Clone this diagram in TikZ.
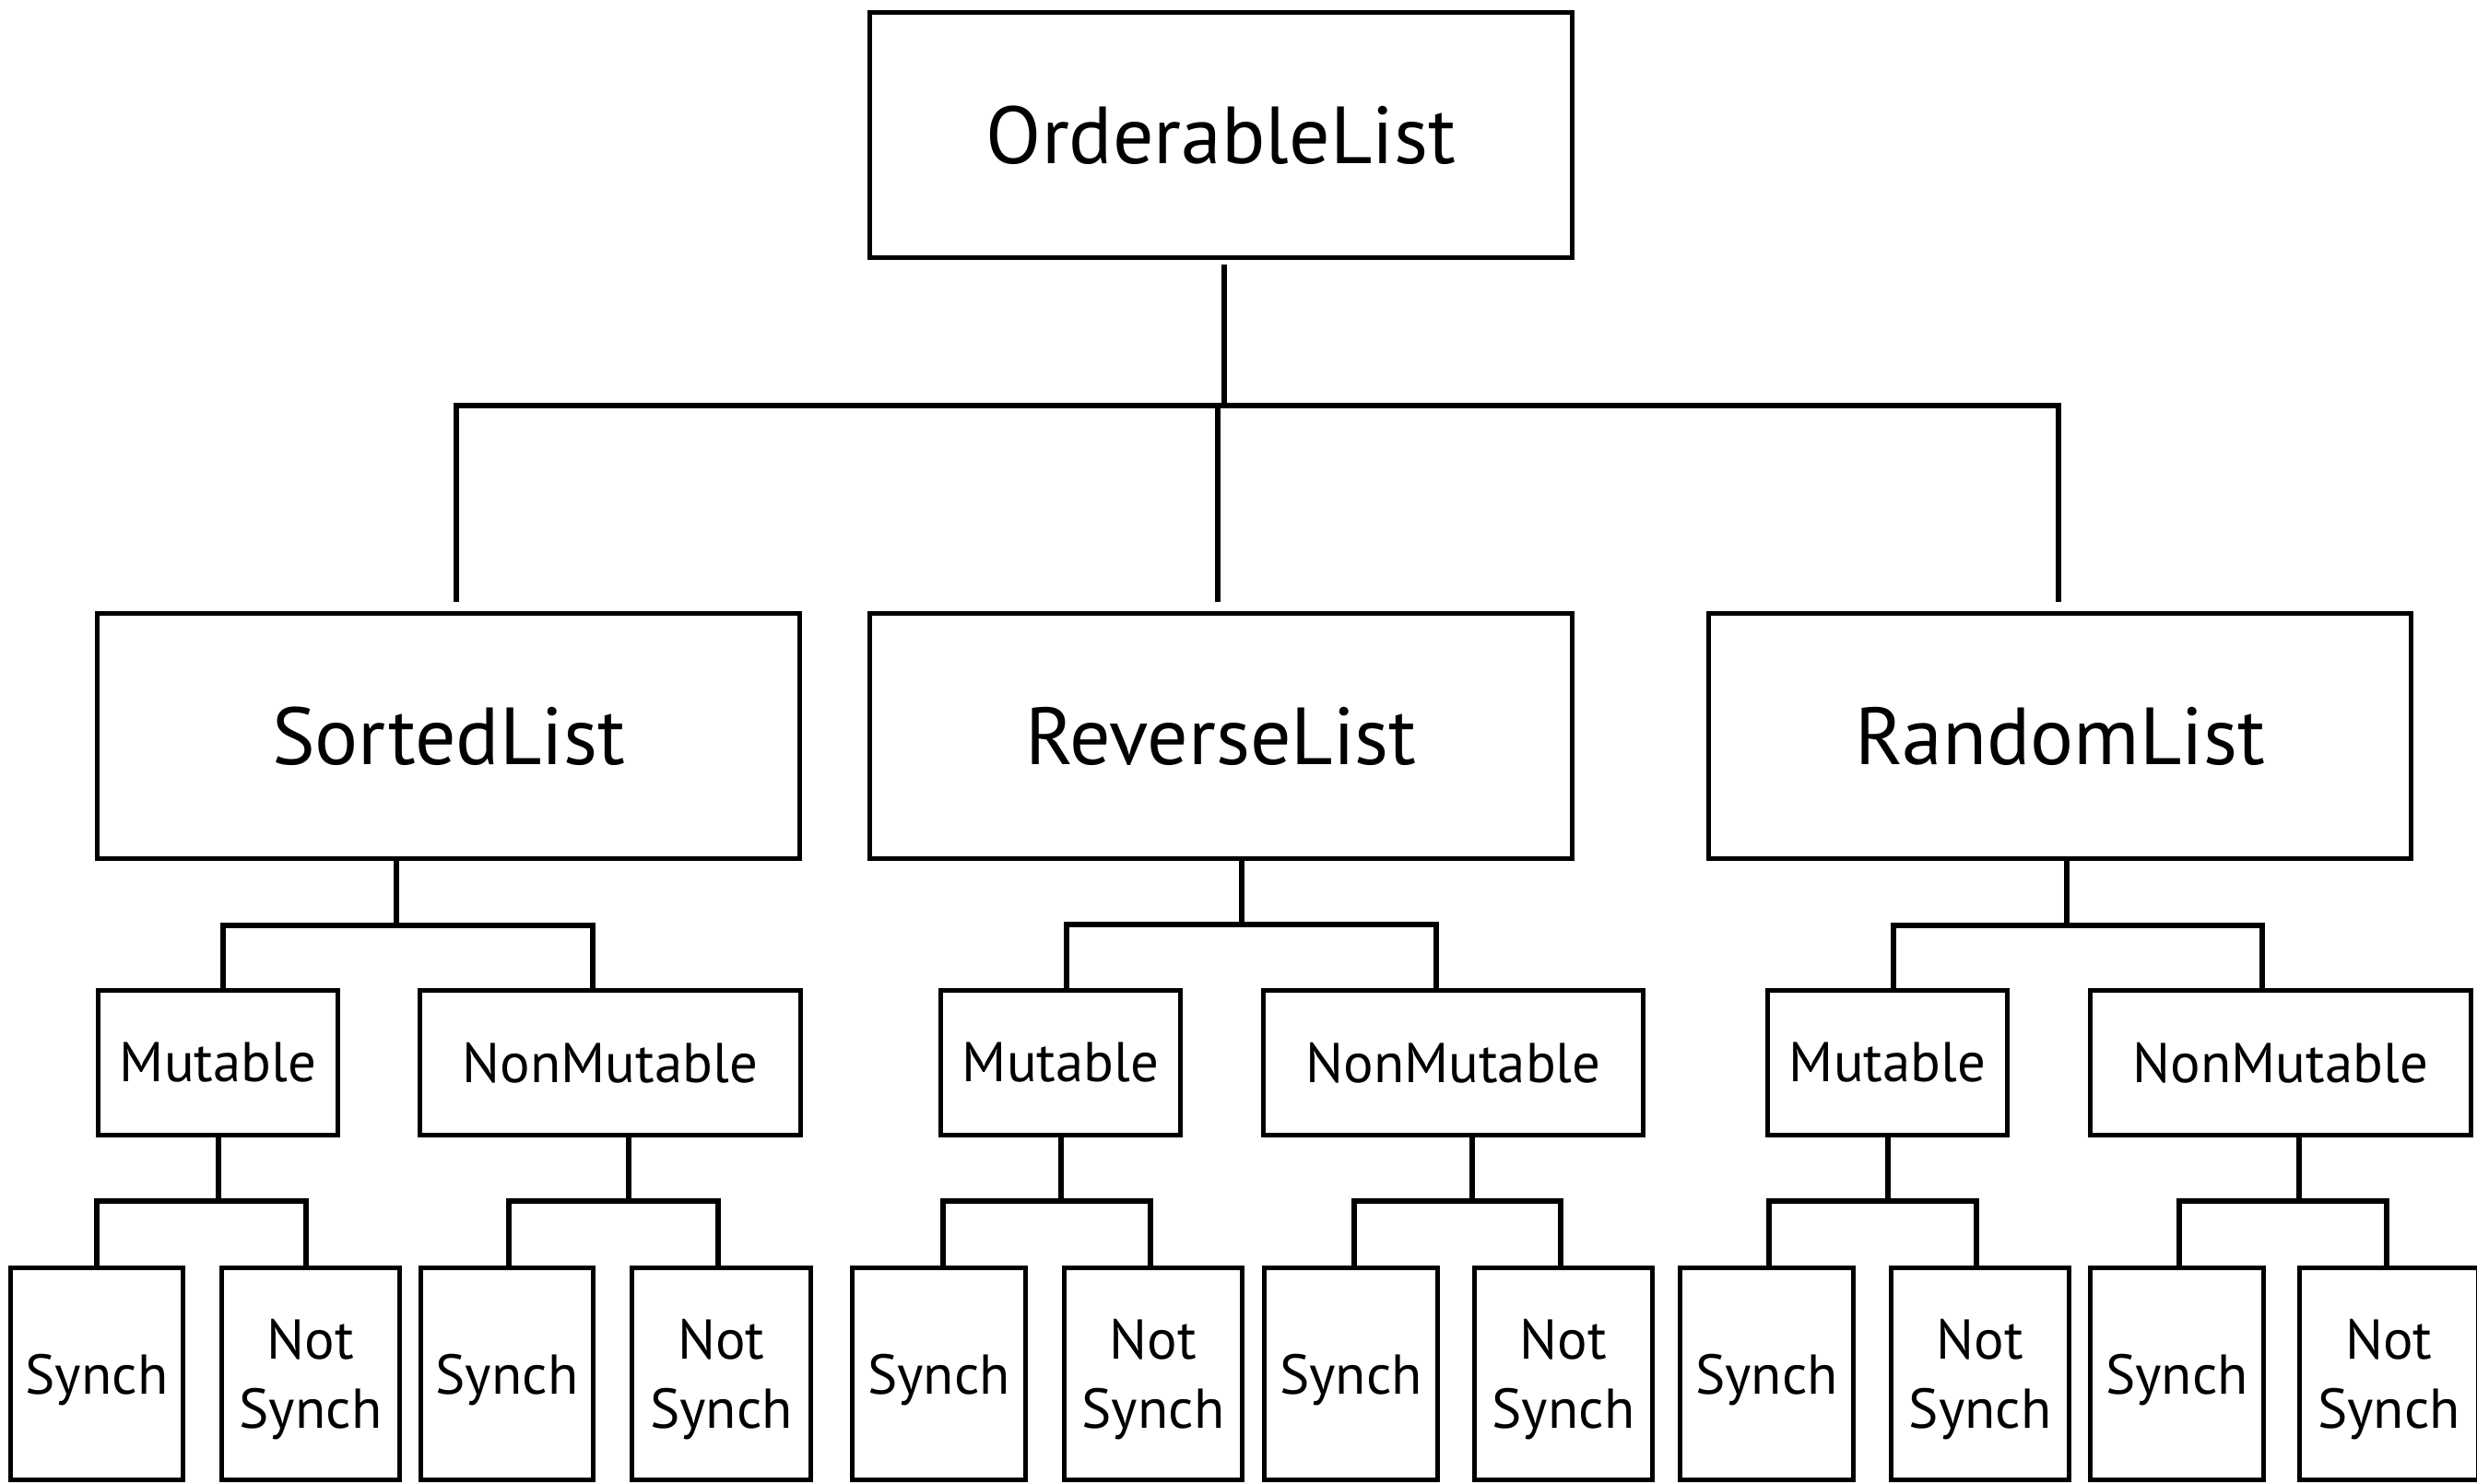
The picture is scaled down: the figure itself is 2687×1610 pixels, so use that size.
\documentclass[tikz,border=0pt]{standalone}
\usepackage{fontspec}
\setmainfont{PT Sans}
\newcommand\myfork[7]{%
  \coordinate (#1-j) at (#2,#3);
  \coordinate (#1-l) at (#4,#3);
  \coordinate (#1-r) at (#5,#3);
  \draw[conn] (#1.south -| #1-j) -- (#1-j);
  \draw[conn] (#1-l |- #6.north) -- (#1-l) -- (#1-r) -- (#1-r |- #7.north);
}
\begin{document}
\begin{tikzpicture}[x=0.01cm,y=-0.01cm,
  box/.style={draw=black, line width=0.05cm, fill=white, inner sep=0pt, align=center},
  big/.style={box, minimum width=7.61cm, minimum height=2.66cm, font=\fontsize{25}{30}\selectfont},
  mid/.style={box, minimum height=1.56cm, font=\fontsize{17.3}{21.3}\selectfont},
  leaf/.style={box, minimum height=2.29cm, text depth=0pt, font=\fontsize{17.3}{21.3}\selectfont},
  conn/.style={line width=0.06cm, line join=miter}]
\useasboundingbox (0,0) rectangle (2687,1610);

% level 1
\node[big] (OL) at (1324.5,146.5) {\raisebox{-1.2pt}{OrderableList}};
% level 2
\node[big] (SL) at (486.5,798.5) {SortedList};
\node[big] (RL) at (1324.5,798.5) {ReverseList};
\node[big] (RdL) at (2234.5,798.5) {RandomList};
% level 3
\node[mid, minimum width=2.60cm] (M1) at (236.5,1153) {Mutable};
\node[mid, minimum width=4.12cm] (NM1) at (662,1153) {NonMutable};
\node[mid, minimum width=2.60cm] (M2) at (1150.5,1153) {Mutable};
\node[mid, minimum width=4.12cm] (NM2) at (1576.5,1153) {NonMutable};
\node[mid, minimum width=2.60cm] (M3) at (2047.5,1153) {Mutable};
\node[mid, minimum width=4.12cm] (NM3) at (2474,1153) {NonMutable};
% level 4
\node[leaf, minimum width=1.87cm] (S1) at (105,1490.5) {Synch};
\node[leaf, minimum width=1.93cm] (N1) at (337,1490.5) {Not\\Synch};
\node[leaf, minimum width=1.87cm] (S2) at (550,1490.5) {Synch};
\node[leaf, minimum width=1.93cm] (N2) at (782.5,1490.5) {Not\\Synch};
\node[leaf, minimum width=1.87cm] (S3) at (1018.5,1490.5) {Synch};
\node[leaf, minimum width=1.93cm] (N3) at (1251,1490.5) {Not\\Synch};
\node[leaf, minimum width=1.87cm] (S4) at (1465.5,1490.5) {Synch};
\node[leaf, minimum width=1.93cm] (N4) at (1696,1490.5) {Not\\Synch};
\node[leaf, minimum width=1.87cm] (S5) at (1916.5,1490.5) {Synch};
\node[leaf, minimum width=1.93cm] (N5) at (2148,1490.5) {Not\\Synch};
\node[leaf, minimum width=1.87cm] (S6) at (2361.5,1490.5) {Synch};
\node[leaf, minimum width=1.93cm] (N6) at (2591.5,1490.5) {Not\\Synch};

% top connectors
\coordinate (t0) at (1328,440);
\coordinate (tl) at (495,440);
\coordinate (tm) at (1321,440);
\coordinate (tr) at (2233,440);
\draw[conn, shorten <=0.05cm] (OL.south -| t0) -- (t0);
\draw[conn, shorten <=0.1cm, shorten >=0.1cm] (tl |- SL.north) -- (tl) -- (tr) -- (tr |- RdL.north);
\draw[conn, shorten >=0.1cm] (tm) -- (tm |- RL.north);

% level 2 -> 3
\myfork{SL}{430}{1004}{242}{643}{M1}{NM1}
\myfork{RL}{1347}{1003}{1157}{1558}{M2}{NM2}
\myfork{RdL}{2242}{1004}{2054}{2454}{M3}{NM3}
% level 3 -> 4
\myfork{M1}{237}{1303}{105}{332}{S1}{N1}
\myfork{NM1}{682}{1303}{552}{779}{S2}{N2}
\myfork{M2}{1151}{1303}{1023}{1248}{S3}{N3}
\myfork{NM2}{1597}{1303}{1469}{1693}{S4}{N4}
\myfork{M3}{2048}{1303}{1919}{2144}{S5}{N5}
\myfork{NM3}{2494}{1303}{2364}{2589}{S6}{N6}
\end{tikzpicture}
\end{document}
